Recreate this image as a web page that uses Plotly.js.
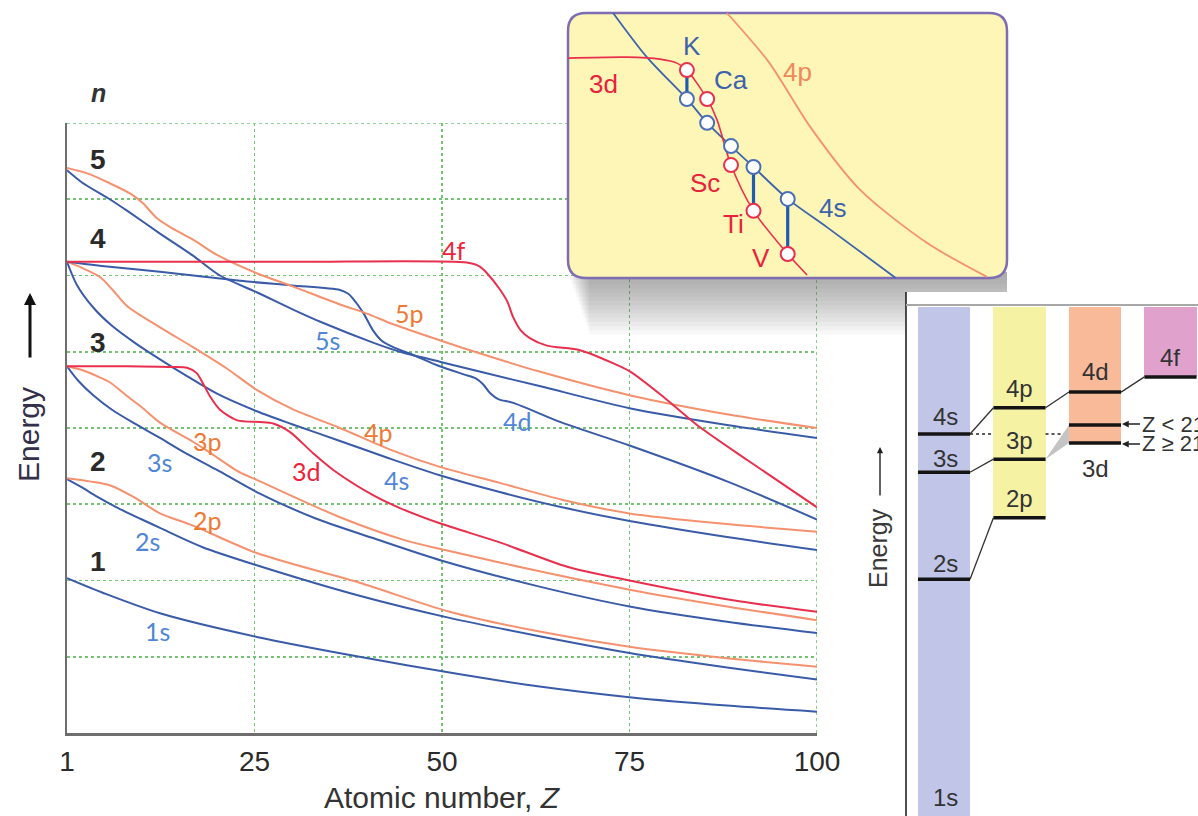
<!DOCTYPE html>
<html><head><meta charset="utf-8">
<script src="https://cdn.plot.ly/plotly-3.0.1.min.js"></script>
<style>html,body{margin:0;padding:0;background:#fff;overflow:hidden}#chart{width:1198px;height:816px}</style>
</head><body><div id="chart"></div>
<script>
// ===== Main chart: orbital energy (schematic, 0-8) vs atomic number Z =====
const xTickVals = [0, 25, 50, 75, 100];
const xTickText = ['1', '25', '50', '75', '100'];
const nLevels = ['1', '2', '3', '4', '5'];

const z1s = [0, 5, 12.4, 25.3, 39, 52.4, 63, 75, 88, 100];
const e1s = [2.03, 1.83, 1.57, 1.26, 1.0, 0.77, 0.61, 0.47, 0.36, 0.28];
const z2s = [0, 2, 4, 7, 10, 12.4, 18, 25.3, 39, 51, 63, 75, 88, 100];
const e2s = [3.33, 3.22, 3.10, 2.94, 2.80, 2.69, 2.44, 2.20, 1.80, 1.51, 1.27, 1.05, 0.86, 0.70];
const z2p = [0, 3, 5.7, 8.8, 12.4, 16.8, 25.3, 39, 51, 63, 75, 88, 100];
const e2p = [3.34, 3.30, 3.25, 3.10, 2.88, 2.72, 2.36, 1.97, 1.59, 1.33, 1.13, 0.98, 0.87];
const z3s = [0, 1.5, 3.5, 6, 9, 12.4, 16, 20, 25.3, 33, 41, 50, 63, 75, 88, 100];
const e3s = [4.81, 4.62, 4.43, 4.24, 4.06, 3.87, 3.66, 3.45, 3.16, 2.82, 2.55, 2.26, 1.92, 1.66, 1.46, 1.31];
const z3p = [0, 2, 4, 5.7, 8, 10, 12.4, 16.8, 19, 23, 25.3, 36.4, 45, 50.4, 63, 75, 88, 100];
const e3p = [4.81, 4.76, 4.68, 4.60, 4.42, 4.27, 4.07, 3.82, 3.68, 3.42, 3.32, 2.83, 2.53, 2.40, 2.12, 1.88, 1.66, 1.48];
const z3d = [0, 8, 14, 16, 17.3, 18.1, 19.1, 20.4, 22.7, 25.7, 27.5, 29.7, 32.8, 35.5, 40.8, 44.4, 49.7, 57.7, 66.7, 75, 88.8, 100];
const e3d = [4.81, 4.81, 4.80, 4.79, 4.72, 4.59, 4.41, 4.24, 4.10, 4.08, 4.06, 3.95, 3.67, 3.45, 3.12, 2.95, 2.75, 2.50, 2.18, 2.00, 1.74, 1.59];
const z4s = [0, 1.3, 3.5, 6, 9, 12.4, 16, 20, 25.3, 30, 36.4, 43, 49.7, 57.7, 66, 75, 88, 100];
const e4s = [6.18, 5.88, 5.58, 5.34, 5.12, 4.90, 4.68, 4.45, 4.22, 4.05, 3.83, 3.60, 3.38, 3.16, 2.96, 2.78, 2.57, 2.40];
const z4p = [0, 2, 4.4, 6.1, 8, 12.4, 16.8, 21.3, 25.3, 30, 36.4, 43, 49.7, 57.7, 66, 75, 88, 100];
const e4p = [6.18, 6.10, 5.98, 5.81, 5.60, 5.32, 5.06, 4.78, 4.50, 4.25, 4.00, 3.72, 3.49, 3.28, 3.06, 2.88, 2.74, 2.64];
const z4d = [0, 5, 12.4, 23.1, 30, 36.4, 37.5, 38.1, 39.5, 40.8, 42, 43.5, 46.1, 49.7, 53, 54.5, 55.5, 56.4, 57.5, 59.5, 66, 75, 88, 100];
const e4d = [6.18, 6.12, 6.05, 5.93, 5.87, 5.81, 5.76, 5.70, 5.51, 5.28, 5.14, 5.06, 4.96, 4.81, 4.70, 4.65, 4.57, 4.46, 4.38, 4.33, 4.07, 3.77, 3.30, 2.80];
const z4f = [0, 30, 53.3, 55, 56, 57.7, 58.7, 59.5, 60.5, 61.7, 64, 68.4, 72.8, 75.1, 79.5, 84, 90.7, 100];
const e4f = [6.18, 6.18, 6.17, 6.12, 6.03, 5.82, 5.66, 5.45, 5.28, 5.18, 5.08, 5.02, 4.85, 4.74, 4.41, 4.04, 3.58, 2.96];
const z5s = [0, 2, 5.7, 8, 12.4, 16.8, 20.4, 25.3, 30, 34.1, 40.8, 44.4, 49.7, 55, 63, 75, 88, 100];
const e5s = [7.38, 7.22, 7.00, 6.85, 6.55, 6.26, 6.00, 5.78, 5.56, 5.38, 5.12, 5.00, 4.87, 4.74, 4.55, 4.26, 4.04, 3.87];
const z5p = [0, 3, 5.7, 8.5, 10.1, 12, 14, 16.8, 20, 25.3, 30, 36.4, 40, 43.5, 49.7, 55, 63, 75, 88, 100];
const e5p = [7.41, 7.33, 7.21, 7.07, 6.95, 6.75, 6.62, 6.47, 6.27, 6.03, 5.86, 5.62, 5.50, 5.36, 5.15, 4.98, 4.74, 4.43, 4.18, 4.00];

// ===== Inset 1: close-up of the 3d / 4s crossing (schematic units 0-100) =====
const insetElems = ['K', 'Ca', 'Sc', 'Ti', 'V'];
const insetZpos = [28.2, 32.7, 38.0, 43.0, 50.6];
const inset3dE = [81.3, 72.6, 52.7, 38.9, 25.9];
const inset4sE = [72.6, 65.4, 58.4, 52.1, 42.5];
const insetLinked = ['K', 'Ti', 'V'];
const i3dX = [1.8, 14.9, 22.2, 26.0, 28.2, 32.7, 34.9, 38.0, 43.0, 50.6, 54.9];
const i3dY = [84.9, 85.2, 84.6, 83.4, 81.3, 72.6, 66.3, 52.7, 38.9, 25.9, 19.6];
const i4sX = [11.8, 19.3, 28.2, 32.7, 38.0, 43.0, 50.6, 59.3, 74.6];
const i4sY = [98.5, 85.2, 72.6, 65.4, 58.4, 52.1, 42.5, 34.0, 18.7];
const i4pX = [37.1, 46.4, 55.6, 66.7, 81.6, 94.9];
const i4pY = [98.5, 83.7, 64.2, 45.2, 29.2, 19.0];

// ===== Inset 2: energy-level columns (schematic units 0-100) =====
const colNames = ['s', 'p', 'd', 'f'];
const colIdx = [0, 1, 2, 3];
const colTop = [97.1, 97.1, 97.1, 97.1];
const colBottom = [0, 56.9, 71.2, 83.8];
const levelNames = ['4s', '3s', '2s', '4p', '3p', '2p', '4d', '3d (Z<21)', '3d (Z≥21)', '4f'];
const levelCol = [0, 0, 0, 1, 1, 1, 2, 2, 2, 3];
const levelE = [72.9, 65.6, 45.2, 77.9, 68.1, 56.9, 80.9, 74.6, 71.2, 83.8];
const linkFrom = ['2s', '3s', '4s', '4p', '4d'];
const linkTo = ['2p', '3p', '4p', '4d', '4f'];

// ---------- helpers ----------
const W = 1198, H = 816;
const PX = x => x / W, PY = y => 1 - y / H;
const X2 = p => (p - 560) / 4.5, Y2 = p => (340 - p) / 3.32;
const X3 = p => (p - 944) / 75.5, Y3 = p => (816 - p) / 5.24;
const BLUE = '#3a5ba8', ORANGE = '#f5916e', RED = '#e8304e';
const LBLUE = '#4f86d6', LORANGE = '#ec7a35', LRED = '#ee2238';
const traces = [];
function curve(x, y, color, xa, ya, w) {
  traces.push({type: 'scatter', mode: 'lines', x: x, y: y, xaxis: xa, yaxis: ya, hoverinfo: 'skip',
    line: {color: color, width: w || 2, shape: 'spline', smoothing: 0.8}});
}
curve(z1s, e1s, BLUE, 'x', 'y'); curve(z2s, e2s, BLUE, 'x', 'y');
curve(z2p, e2p, ORANGE, 'x', 'y'); curve(z3s, e3s, BLUE, 'x', 'y');
curve(z3p, e3p, ORANGE, 'x', 'y'); curve(z4s, e4s, BLUE, 'x', 'y');
curve(z4p, e4p, ORANGE, 'x', 'y'); curve(z5s, e5s, BLUE, 'x', 'y');
curve(z4d, e4d, BLUE, 'x', 'y'); curve(z5p, e5p, ORANGE, 'x', 'y');
curve(z3d, e3d, RED, 'x', 'y'); curve(z4f, e4f, RED, 'x', 'y');

curve(i4pX, i4pY, ORANGE, 'x2', 'y2', 1.8);
curve(i4sX, i4sY, '#3f64ae', 'x2', 'y2', 1.8);
curve(i3dX, i3dY, RED, 'x2', 'y2', 1.6);
const lx = [], ly = [];
insetElems.forEach((el, i) => { if (insetLinked.includes(el)) { lx.push(insetZpos[i], insetZpos[i], null); ly.push(inset3dE[i], inset4sE[i], null); } });
traces.push({type: 'scatter', mode: 'lines', x: lx, y: ly, xaxis: 'x2', yaxis: 'y2', hoverinfo: 'skip', line: {color: '#1f5cb0', width: 3.2}});
traces.push({type: 'scatter', mode: 'markers', x: insetZpos, y: inset4sE, xaxis: 'x2', yaxis: 'y2', hoverinfo: 'skip',
  marker: {size: 14, color: '#ffffff', line: {color: '#4a6fb8', width: 2}}});
traces.push({type: 'scatter', mode: 'markers', x: insetZpos, y: inset3dE, xaxis: 'x2', yaxis: 'y2', hoverinfo: 'skip',
  marker: {size: 14, color: '#ffffff', line: {color: '#e8304e', width: 2}}});

traces.push({type: 'bar', x: colIdx, y: colTop.map((t, i) => t - colBottom[i]), base: colBottom, width: 0.69,
  xaxis: 'x3', yaxis: 'y3', hoverinfo: 'skip',
  marker: {color: ['#c1c5e8', '#f6f2a4', '#f9ba99', '#e0a2cd'], line: {width: 0}}});
const HW = 0.345;
const kx = [], ky = [];
linkFrom.forEach((f, i) => {
  const a = levelNames.indexOf(f), b = levelNames.indexOf(linkTo[i]);
  kx.push(levelCol[a] + HW, levelCol[b] - HW, null); ky.push(levelE[a], levelE[b], null);
});
traces.push({type: 'scatter', mode: 'lines', x: kx, y: ky, xaxis: 'x3', yaxis: 'y3', hoverinfo: 'skip', line: {color: '#333', width: 1.3}});
const i4s = levelNames.indexOf('4s');
traces.push({type: 'scatter', mode: 'lines', x: [HW, 1 - HW, null, 1 + HW, 2 - HW], y: [levelE[i4s], levelE[i4s], null, levelE[i4s], levelE[i4s]],
  xaxis: 'x3', yaxis: 'y3', hoverinfo: 'skip', line: {color: '#222', width: 1.6, dash: 'dot'}});
const i3p = levelNames.indexOf('3p'), i3da = levelNames.indexOf('3d (Z<21)'), i3db = levelNames.indexOf('3d (Z≥21)');
traces.push({type: 'scatter', mode: 'lines', fill: 'toself', x: [1 + HW, 2 - HW, 2 - HW, 1 + HW], y: [levelE[i3p], levelE[i3da], levelE[i3db], levelE[i3p]],
  xaxis: 'x3', yaxis: 'y3', hoverinfo: 'skip', fillcolor: '#c4c4c4', line: {width: 0, color: '#c4c4c4'}});
const vx = [], vy = [];
levelNames.forEach((n, i) => { vx.push(levelCol[i] - HW, levelCol[i] + HW, null); vy.push(levelE[i], levelE[i], null); });
traces.push({type: 'scatter', mode: 'lines', x: vx, y: vy, xaxis: 'x3', yaxis: 'y3', hoverinfo: 'skip', line: {color: '#141414', width: 3.5}});

// ---------- shapes ----------
const shapes = [];
shapes.push({type: 'line', xref: 'x', yref: 'y', layer: 'below', x0: 0, x1: 100, y0: 8, y1: 8, line: {color: '#73c373', width: 1.6, dash: 'dot'}});
shapes.push({type: 'line', xref: 'x', yref: 'y', layer: 'below', x0: 100, x1: 100, y0: 0, y1: 8, line: {color: '#73c373', width: 1.6, dash: 'dot'}});
for (let k = 0; k < 14; k++) {
  shapes.push({type: 'rect', xref: 'x2', yref: 'y2', layer: 'below', x0: X2(570 + k * 1.5), x1: X2(1007), y0: Y2(272), y1: Y2(280 + k * 4.2),
    fillcolor: 'rgba(80,80,80,0.04)', line: {width: 0}});
}
function rr(x0, y0, x1, y1, r) {
  const P = (x, y) => X2(x).toFixed(3) + ',' + Y2(y).toFixed(3);
  return 'M' + P(x0 + r, y0) + ' L' + P(x1 - r, y0) + ' Q' + P(x1, y0) + ' ' + P(x1, y0 + r) + ' L' + P(x1, y1 - r) +
    ' Q' + P(x1, y1) + ' ' + P(x1 - r, y1) + ' L' + P(x0 + r, y1) + ' Q' + P(x0, y1) + ' ' + P(x0, y1 - r) +
    ' L' + P(x0, y0 + r) + ' Q' + P(x0, y0) + ' ' + P(x0 + r, y0) + ' Z';
}
shapes.push({type: 'path', xref: 'x2', yref: 'y2', layer: 'below', path: rr(568, 13, 1007, 278, 18),
  fillcolor: '#fdf6b6', line: {color: '#7e6db2', width: 2.5}});
shapes.push({type: 'rect', xref: 'x3', yref: 'y3', layer: 'below', x0: X3(906), x1: X3(1199), y0: Y3(817), y1: Y3(292), fillcolor: '#ffffff', line: {width: 0}});
shapes.push({type: 'line', xref: 'paper', yref: 'paper', layer: 'above', x0: PX(906), x1: PX(906), y0: PY(292), y1: PY(816), line: {color: '#222', width: 1.6}});
shapes.push({type: 'line', xref: 'paper', yref: 'paper', layer: 'above', x0: PX(906), x1: PX(1198), y0: PY(305), y1: PY(305), line: {color: '#a8a8a8', width: 2}});

// ---------- annotations ----------
const ann = [];
const FS = 'Liberation Sans, Arial, sans-serif';
function txt(t, x, y, color, size, extra) {
  ann.push(Object.assign({text: t, x: PX(x), y: PY(y), xref: 'paper', yref: 'paper', showarrow: false,
    xanchor: 'center', yanchor: 'middle', font: {family: 'Lato, Liberation Sans, sans-serif', size: size, color: color}}, extra || {}));
}
[['1s', 157, 631], ['2s', 147, 541], ['3s', 159, 462], ['4s', 396, 480], ['5s', 327, 340], ['4d', 517, 421]].forEach(a => txt(a[0], a[1], a[2], LBLUE, 25));
[['2p', 207, 520], ['3p', 207, 441], ['4p', 378, 432], ['5p', 409, 313]].forEach(a => txt(a[0], a[1], a[2], LORANGE, 25));
[['3d', 307, 471], ['4f', 454, 250]].forEach(a => txt(a[0], a[1], a[2], LRED, 25));
const nY = [561, 461, 342, 238, 160];
nLevels.forEach((n, i) => txt('<b>' + n + '</b>', 98, nY[i], '#2a2a2a', 28, {font: {family: FS, size: 28, color: '#2a2a2a'}}));
txt('<b><i>n</i></b>', 98, 93, '#333', 25, {font: {family: FS, size: 25, color: '#333'}});
txt('Atomic number, <i>Z</i>', 442, 797, '#333', 30, {font: {family: FS, size: 30, color: '#333'}});
txt('Energy', 28, 435, '#333', 30, {textangle: -90, font: {family: FS, size: 30, color: '#34304a'}});
ann.push({text: '', x: PX(30), y: PY(293), xref: 'paper', yref: 'paper', showarrow: true, ax: 0, ay: 66,
  arrowhead: 2, arrowsize: 0.8, arrowwidth: 3, arrowcolor: '#111', standoff: 0});
[['K', 692, 46, '#3d62ad'], ['Ca', 731, 80, '#3d62ad'], ['4s', 832, 208, '#3d62ad'],
 ['3d', 603, 84, '#e8223c'], ['Sc', 705, 183, '#e8223c'], ['Ti', 733, 224, '#e8223c'], ['V', 761, 258, '#e8223c'],
 ['4p', 797, 72, '#f0875d']].forEach(a => txt(a[0], a[1], a[2], a[3], 26, {font: {family: FS, size: 26, color: a[3]}}));
[['4s', 945, 417], ['3s', 945, 458], ['2s', 945, 563], ['1s', 945, 797], ['4p', 1019, 388], ['3p', 1019, 440], ['2p', 1019, 498],
 ['4d', 1095, 372], ['3d', 1095, 469], ['4f', 1170, 357]].forEach(a => txt(a[0], a[1], a[2], '#333', 24, {font: {family: FS, size: 24, color: '#333'}}));
[['Z < 21', 424], ['Z ≥ 21', 444]].forEach(a => ann.push({text: a[0], x: PX(1122), y: PY(a[1]), xref: 'paper', yref: 'paper',
  showarrow: true, ax: 18, ay: 0, xanchor: 'left', yanchor: 'middle', arrowhead: 2, arrowsize: 0.9, arrowwidth: 1.5, arrowcolor: '#222', standoff: 0,
  font: {family: FS, size: 22, color: '#333'}}));
txt('Energy', 878, 548, '#333', 25, {textangle: -90, font: {family: FS, size: 25, color: '#3a3a3a'}});
ann.push({text: '', x: PX(880), y: PY(447), xref: 'paper', yref: 'paper', showarrow: true, ax: 0, ay: 50,
  arrowhead: 2, arrowsize: 0.9, arrowwidth: 1.4, arrowcolor: '#222', standoff: 0});

const hidden = {visible: false, fixedrange: true, showgrid: false, zeroline: false};
const layout = {
  width: W, height: H, margin: {l: 0, r: 0, t: 0, b: 0}, paper_bgcolor: '#ffffff', plot_bgcolor: 'rgba(0,0,0,0)',
  showlegend: false, hovermode: false, bargap: 0,
  xaxis: {domain: [PX(67), PX(817)], range: [0, 100], tickvals: xTickVals, ticktext: xTickText, ticks: '', ticklabelstandoff: 2,
    showgrid: true, gridcolor: '#73c373', griddash: 'dot', gridwidth: 1.6, showline: true, linecolor: '#6e6e6e', linewidth: 2.5,
    zeroline: false, fixedrange: true, anchor: 'y', tickfont: {family: FS, size: 28, color: '#2b2b2b'}},
  yaxis: {domain: [PY(733), PY(123)], range: [0, 8], dtick: 1, tick0: 0, showticklabels: false, ticks: '',
    showgrid: true, gridcolor: '#73c373', griddash: 'dot', gridwidth: 1.6, showline: true, linecolor: '#6e6e6e', linewidth: 2.5,
    zeroline: false, fixedrange: true, anchor: 'x'},
  xaxis2: Object.assign({domain: [PX(560), PX(1010)], range: [0, 100], anchor: 'y2'}, hidden),
  yaxis2: Object.assign({domain: [PY(340), PY(8)], range: [0, 100], anchor: 'x2'}, hidden),
  xaxis3: Object.assign({domain: [PX(866), 1], range: [X3(866), X3(1198)], anchor: 'y3'}, hidden),
  yaxis3: Object.assign({domain: [0, PY(292)], range: [0, 100], anchor: 'x3'}, hidden),
  shapes: shapes, annotations: ann
};
Plotly.newPlot('chart', traces, layout, {staticPlot: true, displayModeBar: false});
</script></body></html>
